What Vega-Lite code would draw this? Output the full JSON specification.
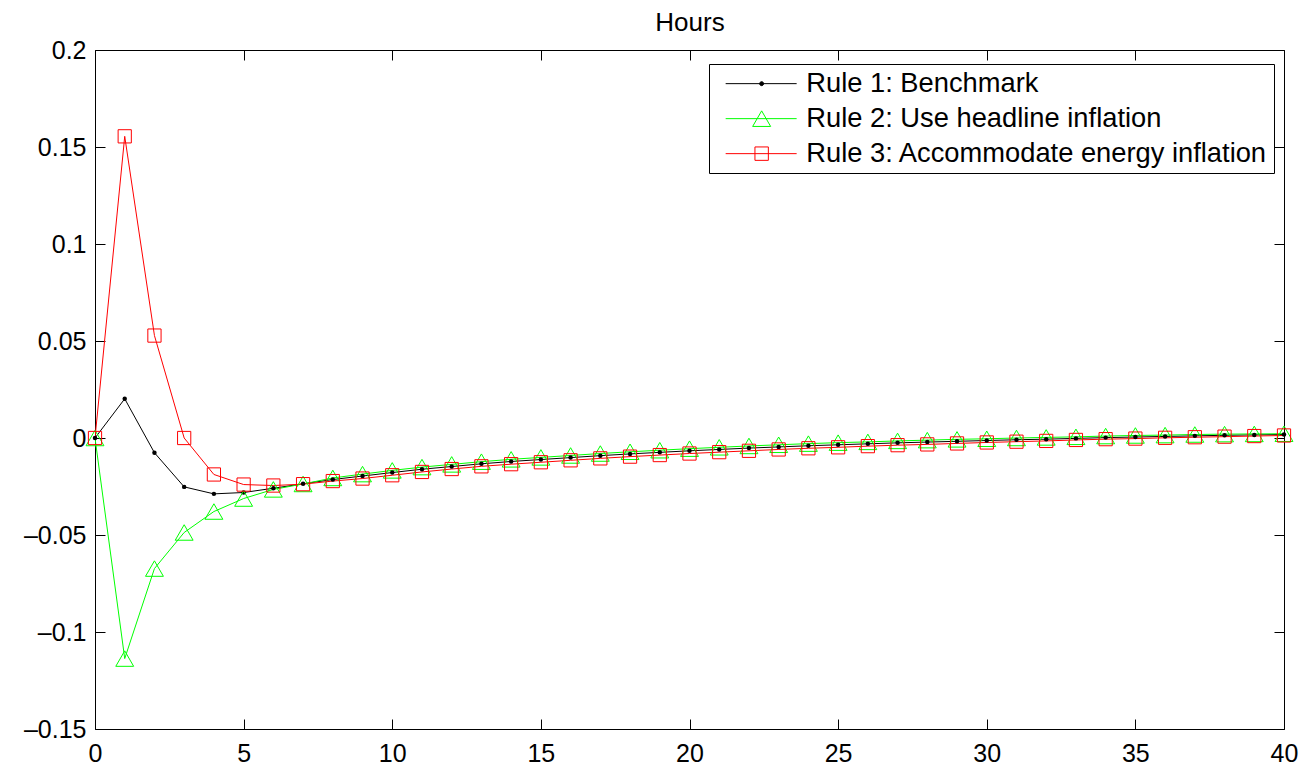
{
  "$schema": "https://vega.github.io/schema/vega-lite/v6.json",
  "autosize": {"type": "none"},
  "padding": {"left": 95, "top": 50, "right": 32, "bottom": 40},
  "width": 1189,
  "height": 679,
  "background": "white",
  "config": {
    "view": {"stroke": null},
    "axis": {"labelFont": "Liberation Sans", "labelFontSize": 25, "labelColor": "black", "domainColor": "black", "domainWidth": 1, "tickColor": "black", "tickWidth": 1, "grid": false},
    "legend": {"labelFont": "Liberation Sans", "labelFontSize": 27.3, "labelColor": "black"}
  },
  "data": {"values": [
    {"t": 0, "Rule 1: Benchmark": 0, "Rule 2: Use headline inflation": 0, "Rule 3: Accommodate energy inflation": 0},
    {"t": 1, "Rule 1: Benchmark": 0.0202, "Rule 2: Use headline inflation": -0.1137, "Rule 3: Accommodate energy inflation": 0.1555},
    {"t": 2, "Rule 1: Benchmark": -0.0076, "Rule 2: Use headline inflation": -0.0673, "Rule 3: Accommodate energy inflation": 0.0528},
    {"t": 3, "Rule 1: Benchmark": -0.0252, "Rule 2: Use headline inflation": -0.0487, "Rule 3: Accommodate energy inflation": 0.0},
    {"t": 4, "Rule 1: Benchmark": -0.0288, "Rule 2: Use headline inflation": -0.0379, "Rule 3: Accommodate energy inflation": -0.0188},
    {"t": 5, "Rule 1: Benchmark": -0.0281, "Rule 2: Use headline inflation": -0.0312, "Rule 3: Accommodate energy inflation": -0.0240},
    {"t": 6, "Rule 1: Benchmark": -0.0259, "Rule 2: Use headline inflation": -0.0265, "Rule 3: Accommodate energy inflation": -0.0245},
    {"t": 7, "Rule 1: Benchmark": -0.0236, "Rule 2: Use headline inflation": -0.0237, "Rule 3: Accommodate energy inflation": -0.0238},
    {"t": 8, "Rule 1: Benchmark": -0.0214, "Rule 2: Use headline inflation": -0.0206, "Rule 3: Accommodate energy inflation": -0.0222},
    {"t": 9, "Rule 1: Benchmark": -0.0196, "Rule 2: Use headline inflation": -0.0186, "Rule 3: Accommodate energy inflation": -0.0209},
    {"t": 10, "Rule 1: Benchmark": -0.0178, "Rule 2: Use headline inflation": -0.0167, "Rule 3: Accommodate energy inflation": -0.0192},
    {"t": 11, "Rule 1: Benchmark": -0.0161, "Rule 2: Use headline inflation": -0.0150, "Rule 3: Accommodate energy inflation": -0.0175},
    {"t": 12, "Rule 1: Benchmark": -0.0147, "Rule 2: Use headline inflation": -0.0136, "Rule 3: Accommodate energy inflation": -0.0160},
    {"t": 13, "Rule 1: Benchmark": -0.0133, "Rule 2: Use headline inflation": -0.0122, "Rule 3: Accommodate energy inflation": -0.0146},
    {"t": 14, "Rule 1: Benchmark": -0.0121, "Rule 2: Use headline inflation": -0.0110, "Rule 3: Accommodate energy inflation": -0.0135},
    {"t": 15, "Rule 1: Benchmark": -0.0111, "Rule 2: Use headline inflation": -0.0100, "Rule 3: Accommodate energy inflation": -0.0125},
    {"t": 16, "Rule 1: Benchmark": -0.0101, "Rule 2: Use headline inflation": -0.0090, "Rule 3: Accommodate energy inflation": -0.0115},
    {"t": 17, "Rule 1: Benchmark": -0.0091, "Rule 2: Use headline inflation": -0.0080, "Rule 3: Accommodate energy inflation": -0.0105},
    {"t": 18, "Rule 1: Benchmark": -0.0082, "Rule 2: Use headline inflation": -0.0071, "Rule 3: Accommodate energy inflation": -0.0096},
    {"t": 19, "Rule 1: Benchmark": -0.0074, "Rule 2: Use headline inflation": -0.0063, "Rule 3: Accommodate energy inflation": -0.0088},
    {"t": 20, "Rule 1: Benchmark": -0.0066, "Rule 2: Use headline inflation": -0.0055, "Rule 3: Accommodate energy inflation": -0.0080},
    {"t": 21, "Rule 1: Benchmark": -0.0059, "Rule 2: Use headline inflation": -0.0048, "Rule 3: Accommodate energy inflation": -0.0073},
    {"t": 22, "Rule 1: Benchmark": -0.0052, "Rule 2: Use headline inflation": -0.0041, "Rule 3: Accommodate energy inflation": -0.0066},
    {"t": 23, "Rule 1: Benchmark": -0.0046, "Rule 2: Use headline inflation": -0.0035, "Rule 3: Accommodate energy inflation": -0.0059},
    {"t": 24, "Rule 1: Benchmark": -0.0040, "Rule 2: Use headline inflation": -0.0029, "Rule 3: Accommodate energy inflation": -0.0053},
    {"t": 25, "Rule 1: Benchmark": -0.0035, "Rule 2: Use headline inflation": -0.0024, "Rule 3: Accommodate energy inflation": -0.0048},
    {"t": 26, "Rule 1: Benchmark": -0.0030, "Rule 2: Use headline inflation": -0.0020, "Rule 3: Accommodate energy inflation": -0.0042},
    {"t": 27, "Rule 1: Benchmark": -0.0025, "Rule 2: Use headline inflation": -0.0015, "Rule 3: Accommodate energy inflation": -0.0037},
    {"t": 28, "Rule 1: Benchmark": -0.0021, "Rule 2: Use headline inflation": -0.0011, "Rule 3: Accommodate energy inflation": -0.0033},
    {"t": 29, "Rule 1: Benchmark": -0.0017, "Rule 2: Use headline inflation": -0.0007, "Rule 3: Accommodate energy inflation": -0.0028},
    {"t": 30, "Rule 1: Benchmark": -0.0013, "Rule 2: Use headline inflation": -0.0004, "Rule 3: Accommodate energy inflation": -0.0023},
    {"t": 31, "Rule 1: Benchmark": -0.0009, "Rule 2: Use headline inflation": 0.0000, "Rule 3: Accommodate energy inflation": -0.0019},
    {"t": 32, "Rule 1: Benchmark": -0.0006, "Rule 2: Use headline inflation": 0.0003, "Rule 3: Accommodate energy inflation": -0.0015},
    {"t": 33, "Rule 1: Benchmark": -0.0002, "Rule 2: Use headline inflation": 0.0006, "Rule 3: Accommodate energy inflation": -0.0010},
    {"t": 34, "Rule 1: Benchmark": 0.0002, "Rule 2: Use headline inflation": 0.0010, "Rule 3: Accommodate energy inflation": -0.0006},
    {"t": 35, "Rule 1: Benchmark": 0.0005, "Rule 2: Use headline inflation": 0.0013, "Rule 3: Accommodate energy inflation": -0.0003},
    {"t": 36, "Rule 1: Benchmark": 0.0008, "Rule 2: Use headline inflation": 0.0015, "Rule 3: Accommodate energy inflation": 0.0001},
    {"t": 37, "Rule 1: Benchmark": 0.0011, "Rule 2: Use headline inflation": 0.0018, "Rule 3: Accommodate energy inflation": 0.0004},
    {"t": 38, "Rule 1: Benchmark": 0.0014, "Rule 2: Use headline inflation": 0.0020, "Rule 3: Accommodate energy inflation": 0.0007},
    {"t": 39, "Rule 1: Benchmark": 0.0016, "Rule 2: Use headline inflation": 0.0021, "Rule 3: Accommodate energy inflation": 0.0010},
    {"t": 40, "Rule 1: Benchmark": 0.0018, "Rule 2: Use headline inflation": 0.0022, "Rule 3: Accommodate energy inflation": 0.0013}
  ]},
  "transform": [
    {"fold": ["Rule 1: Benchmark", "Rule 2: Use headline inflation", "Rule 3: Accommodate energy inflation"], "as": ["rule", "v"]}
  ],
  "layer": [
    {
      "mark": {"type": "line", "strokeWidth": 1, "clip": true},
      "encoding": {
        "x": {"field": "t", "type": "quantitative", "scale": {"domain": [0, 40], "nice": false, "zero": false},
              "axis": {"orient": "bottom", "title": null, "values": [0, 5, 10, 15, 20, 25, 30, 35, 40], "format": "d", "tickSize": -10, "labelPadding": 22, "labelFlush": false}},
        "y": {"field": "v", "type": "quantitative", "scale": {"domain": [-0.15, 0.2], "nice": false, "zero": false},
              "axis": {"orient": "left", "title": null, "values": [-0.15, -0.1, -0.05, 0, 0.05, 0.1, 0.15, 0.2],
                       "labelExpr": "(datum.value < 0 ? '–' : '') + format(abs(datum.value), '.2~f')",
                       "tickSize": -10, "labelPadding": 19, "labelFlush": false}},
        "color": {"field": "rule", "type": "nominal",
                  "scale": {"domain": ["Rule 1: Benchmark", "Rule 2: Use headline inflation", "Rule 3: Accommodate energy inflation"], "range": ["#000000", "#00ff00", "#ff0000"]},
                  "legend": {
                    "title": null, "orient": "none", "legendX": 614, "legendY": 14,
                    "fillColor": "white", "strokeColor": "black", "padding": 6,
                    "symbolSize": 400, "labelOffset": 64, "rowPadding": 7, "labelLimit": 0,
                    "encode": {"symbols": {"update": {
                      "shape": {"signal": "datum.index === 0 ? 'M-0.3,0H6.8M3.1,0A0.2,0.2 0 1,0 3.5,0A0.2,0.2 0 1,0 3.1,0Z' : (datum.index === 1 ? 'M-0.3,0H6.8M3.3,-0.78L2.4,0.78L4.2,0.78Z' : 'M-0.3,0H6.8M2.63,-0.67H3.97V0.67H2.63Z')"},
                      "size": {"value": 400},
                      "strokeWidth": {"value": 1},
                      "stroke": {"scale": "color", "field": "value"},
                      "fill": {"signal": "datum.index === 0 ? 'black' : 'transparent'"},
                      "opacity": {"value": 1}
                    }}}
                  }}
      }
    },
    {
      "transform": [{"filter": "datum.rule === 'Rule 1: Benchmark'"}],
      "mark": {"type": "point", "shape": "circle", "filled": true, "color": "black", "size": 20, "opacity": 1},
      "encoding": {
        "x": {"field": "t", "type": "quantitative", "scale": {"domain": [0, 40], "nice": false, "zero": false},
              "axis": {"orient": "top", "values": [0, 5, 10, 15, 20, 25, 30, 35, 40], "labels": false, "tickSize": -10,
                       "title": "Hours", "titleFont": "Liberation Sans", "titleFontSize": 26, "titleFontWeight": "normal", "titleColor": "black",
                       "titleBaseline": "alphabetic", "titleAnchor": "middle", "titleX": 594.5, "titleY": -20}},
        "y": {"field": "v", "type": "quantitative", "scale": {"domain": [-0.15, 0.2], "nice": false, "zero": false},
              "axis": {"orient": "right", "title": null, "values": [-0.15, -0.1, -0.05, 0, 0.05, 0.1, 0.15, 0.2], "labels": false, "tickSize": -10}}
      }
    },
    {
      "transform": [{"filter": "datum.rule === 'Rule 2: Use headline inflation'"}],
      "mark": {"type": "point", "shape": "triangle-up", "filled": false, "color": "#00ff00", "strokeWidth": 1, "size": 320, "opacity": 1},
      "encoding": {
        "x": {"field": "t", "type": "quantitative", "axis": null},
        "y": {"field": "v", "type": "quantitative", "axis": null}
      }
    },
    {
      "transform": [{"filter": "datum.rule === 'Rule 3: Accommodate energy inflation'"}],
      "mark": {"type": "point", "shape": "square", "filled": false, "color": "#ff0000", "strokeWidth": 1, "size": 175, "opacity": 1},
      "encoding": {
        "x": {"field": "t", "type": "quantitative", "axis": null},
        "y": {"field": "v", "type": "quantitative", "axis": null}
      }
    }
  ],
  "resolve": {"axis": {"x": "independent", "y": "independent"}}
}
